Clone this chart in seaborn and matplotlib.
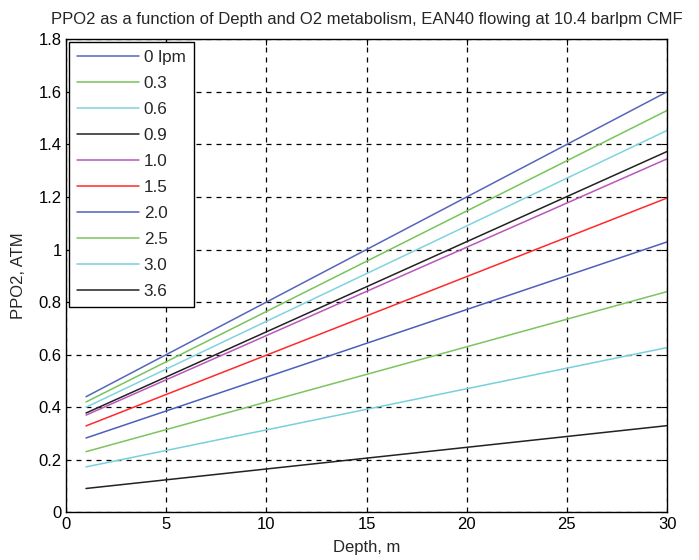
import matplotlib
matplotlib.use("Agg")
import matplotlib.pyplot as plt
import seaborn as sns
import pandas as pd

# O2 metabolism rates (lpm) and PPO2 at the shallow and deep ends of the depth range
flows = ["0 lpm", "0.3", "0.6", "0.9", "1.0", "1.5", "2.0", "2.5", "3.0", "3.6"]
depth_ends = [1, 30]
ppo2_at_1m = [0.44, 0.42, 0.40, 0.378, 0.370, 0.329, 0.283, 0.231, 0.173, 0.091]
ppo2_at_30m = [1.60, 1.529, 1.453, 1.373, 1.345, 1.196, 1.029, 0.840, 0.627, 0.330]
colors = ["#5566bb", "#77c45a", "#7fd3df", "#222222", "#bb55bb",
          "#ff2a2a", "#4d5fbb", "#7cc45e", "#78d0dc", "#222222"]

x_ticks = [0, 5, 10, 15, 20, 25, 30]
y_ticks = [0, 0.2, 0.4, 0.6, 0.8, 1, 1.2, 1.4, 1.6, 1.8]
y_tick_labels = ["0", "0.2", "0.4", "0.6", "0.8", "1", "1.2", "1.4", "1.6", "1.8"]

rows = []
for name, y0, y1 in zip(flows, ppo2_at_1m, ppo2_at_30m):
    rows.append({"Depth": depth_ends[0], "PPO2": y0, "flow": name})
    rows.append({"Depth": depth_ends[1], "PPO2": y1, "flow": name})
df = pd.DataFrame(rows)

sns.set_style("white")
plt.rcParams["font.family"] = ["Liberation Sans", "DejaVu Sans"]
plt.rcParams["font.size"] = 11

fig = plt.figure(figsize=(6.99, 5.6), dpi=100)
ax = fig.add_axes([0.0944, 0.085, 0.860, 0.845])

sns.lineplot(data=df, x="Depth", y="PPO2", hue="flow", hue_order=flows,
             palette=colors, linewidth=1.1, ax=ax, legend=True)

ax.set_xlim(0, 30)
ax.set_ylim(0, 1.8)
ax.set_xticks(x_ticks)
ax.set_yticks(y_ticks)
ax.set_yticklabels(y_tick_labels)
ax.grid(True, color="black", linestyle=(0, (4, 4)), linewidth=0.9)
ax.set_axisbelow(True)
for s in ax.spines.values():
    s.set_color("black")
    s.set_linewidth(1.0)
ax.tick_params(direction="in", length=4, width=0.8, colors="black",
               top=True, right=True, labelsize=12, pad=3)

ax.set_xlabel("Depth, m", fontsize=12, labelpad=6)
ax.set_ylabel("PPO2, ATM", fontsize=12, labelpad=9)
ax.set_title("PPO2 as a function of Depth and O2 metabolism, EAN40 flowing at 10.4 barlpm CMF",
             fontsize=12, pad=11)

leg = ax.legend(loc="upper left", frameon=True, fontsize=12.3, handlelength=3.6,
                handletextpad=0.3, labelspacing=0.64, borderaxespad=0.15,
                borderpad=0.5, fancybox=False, title=None)
leg.get_frame().set_edgecolor("black")
leg.get_frame().set_linewidth(1.0)
leg.get_frame().set_alpha(1)

fig.savefig("out.png", dpi=100, facecolor="white")
